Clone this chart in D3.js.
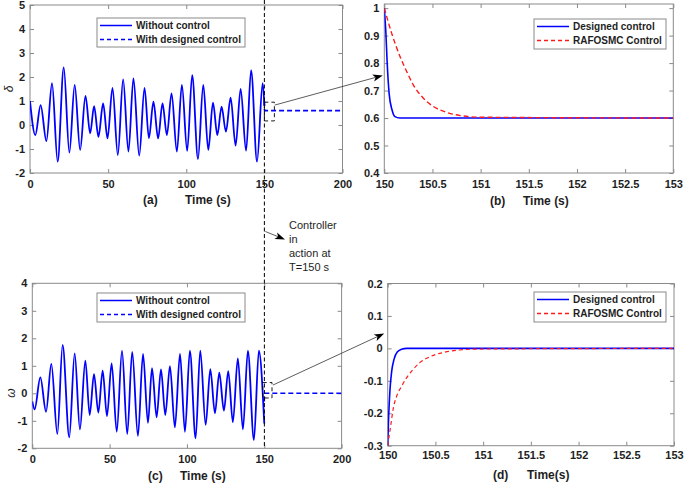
<!DOCTYPE html>
<html><head><meta charset="utf-8">
<script src="https://cdn.jsdelivr.net/npm/d3@7"></script>
<style>body{margin:0;background:#fff} svg{display:block} text{font-family:"Liberation Sans",Arial,sans-serif}</style>
</head><body><svg id="c" width="685" height="483"></svg>
<script>
// ---------- data ----------
// (a) rotor angle delta, without control (extrema of the oscillation)
const tA = [0,3.4,6.8,10.5,14.1,17.7,21.6,25.2,28.6,32.1,35.5,38.5,41,43.8,46.8,49.6,52.8,56.2,59.6,63,66.2,69.9,73.3,76.1,79,82,84.8,87.6,90.6,94,97.2,100.6,103.8,107.5,110.9,114.1,117.1,119.9,122.6,125.4,128.4,131.6,134.8,138.3,141.5,145.3,148.9,150];
const deltaNoCtrl = [1.0,-0.42,0.83,-0.67,1.74,-1.53,2.4,-1.15,1.67,-1.04,1.21,-0.35,0.79,-0.49,0.9,-0.56,1.55,-1.25,1.9,-1.11,1.94,-1.28,1.55,-0.55,0.97,-0.56,0.9,-0.42,1.32,-1.11,1.67,-1.08,2.08,-1.42,1.67,-1.04,0.93,-0.42,0.76,-0.28,1.14,-0.86,1.5,-1.07,2.29,-1.53,1.74,0.8];
const tACtrl = [150,150.1,150.2,200];
const deltaCtrl = [1.0,0.63,0.6,0.6];
// (b) zoom of delta
const tBDes = [150,150.017,150.03,150.05,150.08,150.11,150.16,150.25,153];
const deltaDes = [1.0,0.905,0.80,0.69,0.63,0.605,0.6,0.6,0.6];
const tBRaf = [150,150.076,150.163,150.233,150.302,150.406,150.51,150.65,150.79,151,153];
const deltaRaf = [1.0,0.909,0.824,0.769,0.72,0.672,0.642,0.62,0.609,0.603,0.6];
// (c) speed deviation omega, without control
const tC = [0,1.5,5.2,8.9,12.3,16.2,19.6,23.9,27.4,30.8,34.3,37.1,39.9,42.7,45.5,48.3,51.3,54.6,58,61.4,64.6,68.3,71.6,74.8,77.4,80.4,83.2,86,89,92.2,95.5,98.7,101.9,105.6,108.6,112.1,115.1,118.1,120.9,123.9,126.7,129.7,132.9,136.2,139.4,143.3,146.5,150];
const omegaNoCtrl = [-0.3,-0.58,0.58,-0.67,1.07,-1.48,1.76,-1.6,1.45,-1.31,1.19,-0.79,0.7,-0.7,0.82,-0.83,1.09,-1.4,1.55,-1.48,1.51,-1.55,1.43,-1.07,0.91,-0.87,0.87,-0.79,0.99,-1.24,1.43,-1.4,1.55,-1.64,1.55,-1.15,0.88,-0.73,0.75,-0.63,0.81,-1.05,1.27,-1.31,1.55,-1.7,1.55,-1.1];
const tCCtrl = [150,150.05,150.2,200];
const omegaCtrl = [-0.3,-0.05,0,0];
// (d) zoom of omega
const tDDes = [150,150.01,150.024,150.042,150.066,150.1,150.145,150.2,153];
const omegaDes = [-0.3,-0.21,-0.127,-0.07,-0.034,-0.011,-0.003,0,0];
const tDRaf = [150,150.035,150.059,150.093,150.145,150.197,150.266,150.336,150.44,150.578,150.75,150.96,153];
const omegaRaf = [-0.3,-0.231,-0.184,-0.148,-0.117,-0.091,-0.065,-0.044,-0.026,-0.013,-0.005,-0.002,0];
// ticks
const ticksLongX = [0,50,100,150,200];
const ticksAY = [-2,-1,0,1,2,3,4,5];
const ticksCY = [-2,-1,0,1,2,3,4];
const ticksZoomX = [150,150.5,151,151.5,152,152.5,153];
const ticksBY = [0.4,0.5,0.6,0.7,0.8,0.9,1];
const ticksDY = [-0.3,-0.2,-0.1,0,0.1,0.2];
// legend labels
const legLong = ["Without control","With designed control"];
const legZoom = ["Designed control","RAFOSMC Control"];
const noteLines = ["Controller","in","action at","T=150 s"];

// ---------- drawing ----------
const svg = d3.select("#c");
svg.append("rect").attr("width",685).attr("height",483).attr("fill","#fff");
const BOX = "#8a8a8a", TXT = "#1e1e1e", BLUE = "#0000ff", RED = "#ff1a1a";
let clipId = 0;

function panel(o){
  const x = d3.scaleLinear().domain(o.xd).range(o.xr);
  const y = d3.scaleLinear().domain(o.yd).range(o.yr);
  const g = svg.append("g");
  g.append("rect").attr("x",o.xr[0]).attr("y",o.yr[1]).attr("width",o.xr[1]-o.xr[0]).attr("height",o.yr[0]-o.yr[1])
    .attr("fill","#fff").attr("stroke",BOX).attr("stroke-width",1);
  const fmt = d => String(+d.toFixed(2));
  const ax = (gen, tr) => {
    const a = g.append("g").attr("transform",tr).call(gen);
    a.select(".domain").remove();
    a.selectAll("line").attr("stroke",BOX);
    a.selectAll("text").attr("fill",TXT).style("font-size","11px").style("font-weight","bold")
      .style("font-family",'"Liberation Sans",Arial,sans-serif');
    return a;
  };
  ax(d3.axisBottom(x).tickValues(o.xt).tickSizeInner(-4).tickSizeOuter(0).tickPadding(o.xpad).tickFormat(fmt), `translate(0,${o.yr[0]})`);
  ax(d3.axisTop(x).tickValues(o.xt).tickSizeInner(-4).tickSizeOuter(0).tickFormat(""), `translate(0,${o.yr[1]})`);
  ax(d3.axisLeft(y).tickValues(o.yt).tickSizeInner(-4).tickSizeOuter(0).tickPadding(5).tickFormat(fmt), `translate(${o.xr[0]},0)`);
  ax(d3.axisRight(y).tickValues(o.yt).tickSizeInner(-4).tickSizeOuter(0).tickFormat(""), `translate(${o.xr[1]},0)`);
  const id = "clip"+(clipId++);
  svg.append("clipPath").attr("id",id).append("rect")
    .attr("x",o.xr[0]).attr("y",o.yr[1]-1).attr("width",o.xr[1]-o.xr[0]).attr("height",o.yr[0]-o.yr[1]+2);
  const plot = g.append("g").attr("clip-path",`url(#${id})`);
  return {x,y,g,plot};
}

function series(p, ts, vs, color, dash, w){
  const line = d3.line().x(i=>p.x(ts[i])).y(i=>p.y(vs[i])).curve(d3.curveMonotoneX);
  p.plot.append("path").attr("d",line(d3.range(ts.length))).attr("fill","none")
    .attr("stroke",color).attr("stroke-width",w||1.5).attr("stroke-dasharray",dash||null);
}

function legend(x0,y0,w,h,rows){
  const g = svg.append("g");
  g.append("rect").attr("x",x0).attr("y",y0).attr("width",w).attr("height",h).attr("fill","#fff").attr("stroke",BOX);
  rows.forEach((r,i)=>{
    const yy = y0 + 7.5 + i*14;
    g.append("line").attr("x1",x0+3).attr("x2",x0+35).attr("y1",yy).attr("y2",yy)
      .attr("stroke",r.c).attr("stroke-width",1.5).attr("stroke-dasharray",r.d||null);
    g.append("text").attr("x",x0+39).attr("y",yy+3.6).text(r.t).attr("fill",TXT)
      .style("font-size","10px").style("font-weight","bold");
  });
}

function label(x,y,t,size){
  svg.append("text").attr("x",x).attr("y",y).text(t).attr("fill",TXT)
    .style("font-size",(size||12)+"px").style("font-weight","bold");
}

function arrow(x1,y1,x2,y2){
  const g = svg.append("g");
  const a = Math.atan2(y2-y1,x2-x1), L=10, W=3.6, B=7.5;
  const bx = x2-L*Math.cos(a), by = y2-L*Math.sin(a);
  const mx = x2-B*Math.cos(a), my = y2-B*Math.sin(a);
  g.append("line").attr("x1",x1).attr("y1",y1).attr("x2",mx).attr("y2",my).attr("stroke","#333").attr("stroke-width",0.8);
  const px = -Math.sin(a), py = Math.cos(a);
  g.append("path").attr("d",`M${x2},${y2}L${bx+px*W},${by+py*W}L${mx},${my}L${bx-px*W},${by-py*W}Z`).attr("fill","#000");
}

// panel (a)
const pA = panel({xd:[0,200], yd:[-2,5], xr:[30,342.5], yr:[173,5], xt:ticksLongX, yt:ticksAY, xpad:7});
series(pA, tA, deltaNoCtrl, BLUE, null, 1.8);
series(pA, tACtrl, deltaCtrl, BLUE, "5,3", 1.6);
// panel (b)
const pB = panel({xd:[150,153], yd:[0.4,1.015], xr:[384.3,673.3], yr:[173,4], xt:ticksZoomX, yt:ticksBY, xpad:7});
series(pB, tBDes, deltaDes, BLUE, null, 1.6);
series(pB, tBRaf, deltaRaf, RED, "5,3", 1.4);
// panel (c)
const pC = panel({xd:[0,200], yd:[-2,4], xr:[32.3,341.6], yr:[448.3,283.3], xt:ticksLongX, yt:ticksCY, xpad:7});
series(pC, tC, omegaNoCtrl, BLUE, null, 1.8);
series(pC, tCCtrl, omegaCtrl, BLUE, "5,3", 1.6);
// panel (d)
const pD = panel({xd:[150,153], yd:[-0.3,0.2], xr:[387.7,674], yr:[445.7,283.5], xt:ticksZoomX, yt:ticksDY, xpad:5.5});
series(pD, tDDes, omegaDes, BLUE, null, 1.6);
series(pD, tDRaf, omegaRaf, RED, "4,3", 1.2);

// legends
legend(97,18,148,29,[{t:legLong[0],c:BLUE},{t:legLong[1],c:BLUE,d:"4,3"}]);
legend(97,293,148,29,[{t:legLong[0],c:BLUE},{t:legLong[1],c:BLUE,d:"4,3"}]);
legend(534,19,132,30,[{t:legZoom[0],c:BLUE},{t:legZoom[1],c:RED,d:"4,3"}]);
legend(534,292,132,30,[{t:legZoom[0],c:BLUE},{t:legZoom[1],c:RED,d:"4,3"}]);

// axis labels
label(143,204,"(a)"); label(185,204,"Time (s)");
label(490,205,"(b)"); label(523,205,"Time (s)");
label(148,480,"(c)"); label(180,480,"Time (s)");
label(493,479,"(d)"); label(527,479,"Time(s)");
svg.append("text").attr("transform","translate(13,89) rotate(-90)").attr("text-anchor","middle")
  .style("font-size","12px").style("font-style","italic").attr("fill",TXT).text("δ");
svg.append("text").attr("transform","translate(15,393) rotate(-90)").attr("text-anchor","middle")
  .style("font-size","12px").style("font-style","italic").attr("fill",TXT).text("ω");

// controller switch line at T=150
const xs = pA.x(150);
svg.append("line").attr("x1",xs).attr("x2",xs).attr("y1",0).attr("y2",pC.y(-2))
  .attr("stroke","#000").attr("stroke-width",1).attr("stroke-dasharray","4,2.5");

// zoom boxes
function zbox(p, t0,t1,v0,v1){
  svg.append("rect").attr("x",p.x(t0)).attr("y",p.y(v0)).attr("width",p.x(t1)-p.x(t0)).attr("height",p.y(v1)-p.y(v0))
    .attr("fill","none").attr("stroke","#000").attr("stroke-width",0.9).attr("stroke-dasharray","4,3");
}
zbox(pA,150,156.4,0.95,0.17);
zbox(pC,149,155,0.39,-0.17);
arrow(pA.x(156.6), pA.y(0.83), pB.x(150)-1.5, pB.y(0.755));
arrow(pC.x(155.6), pC.y(0.3), pD.x(150)-3.5, pD.y(0.046));

// note
noteLines.forEach((s,i)=>{
  svg.append("text").attr("x",289).attr("y",[228.5,243.3,257,271][i]).text(s).attr("fill",TXT).style("font-size","11px");
});
arrow(xs+1, 231.5, 285, 239.5);
</script></body></html>
